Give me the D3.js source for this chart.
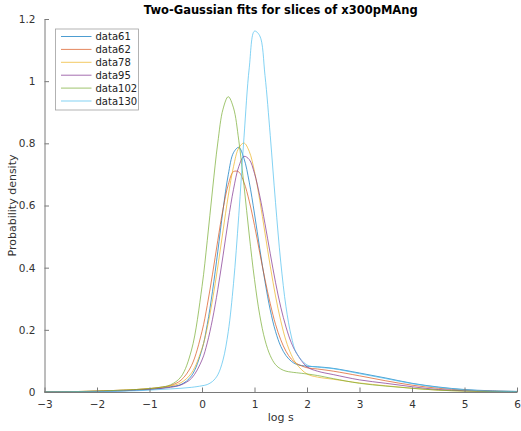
<!DOCTYPE html>
<html>
<head>
<meta charset="utf-8">
<script src="https://cdn.jsdelivr.net/npm/d3@7"></script>
<style>
  body { margin: 0; background: #fff; }
  text { font-family: "DejaVu Sans", sans-serif; }
</style>
</head>
<body>
<script>
// x grid (log s) shared by all slices
let xs = [-3, -2.5, -2, -1.5, -1.25, -1, -0.8, -0.6, -0.4, -0.2, 0, 0.1, 0.2, 0.3, 0.4, 0.5, 0.6, 0.7, 0.8, 0.9,
  1.0, 1.1, 1.2, 1.3, 1.4, 1.5, 1.6, 1.7, 1.8, 2.0, 2.2, 2.5, 3, 3.5, 4, 4.5, 5, 5.5, 6];

// probability density, one array per slice
let data61 = [0.0005, 0.001, 0.002, 0.004, 0.006, 0.009, 0.012, 0.017, 0.024, 0.052, 0.137, 0.217, 0.324, 0.451, 0.585, 0.699, 0.770, 0.787, 0.751, 0.675,
  0.573, 0.461, 0.355, 0.264, 0.195, 0.147, 0.117, 0.099, 0.089, 0.083, 0.081, 0.076, 0.061, 0.045, 0.028, 0.016, 0.008, 0.004, 0.002];
let data62 = [0.0005, 0.001, 0.003, 0.006, 0.008, 0.011, 0.015, 0.021, 0.038, 0.085, 0.195, 0.279, 0.379, 0.487, 0.588, 0.667, 0.709, 0.708, 0.674, 0.614,
  0.536, 0.448, 0.362, 0.284, 0.218, 0.168, 0.131, 0.106, 0.092, 0.078, 0.074, 0.067, 0.052, 0.036, 0.022, 0.012, 0.006, 0.003, 0.0015];
let data78 = [0.0005, 0.001, 0.003, 0.006, 0.008, 0.011, 0.014, 0.019, 0.030, 0.061, 0.140, 0.207, 0.296, 0.402, 0.518, 0.631, 0.725, 0.785, 0.801, 0.774,
  0.709, 0.617, 0.511, 0.405, 0.309, 0.229, 0.165, 0.120, 0.090, 0.058, 0.048, 0.041, 0.029, 0.020, 0.012, 0.006, 0.003, 0.0015, 0.001];
let data95 = [0.0005, 0.001, 0.002, 0.004, 0.006, 0.008, 0.011, 0.015, 0.023, 0.044, 0.103, 0.158, 0.234, 0.329, 0.438, 0.552, 0.652, 0.725, 0.758, 0.748,
  0.703, 0.631, 0.541, 0.445, 0.353, 0.273, 0.209, 0.159, 0.125, 0.081, 0.067, 0.056, 0.039, 0.028, 0.017, 0.008, 0.004, 0.002, 0.001];
let data102 = [0.0005, 0.001, 0.003, 0.006, 0.008, 0.011, 0.015, 0.023, 0.049, 0.135, 0.339, 0.487, 0.650, 0.801, 0.910, 0.950, 0.914, 0.810, 0.664, 0.505,
  0.362, 0.247, 0.167, 0.117, 0.088, 0.074, 0.067, 0.064, 0.062, 0.058, 0.053, 0.043, 0.028, 0.019, 0.012, 0.006, 0.003, 0.0015, 0.001];
let data130 = [0.0003, 0.0006, 0.001, 0.003, 0.004, 0.006, 0.008, 0.010, 0.012, 0.015, 0.020, 0.024, 0.034, 0.055, 0.103, 0.194, 0.349, 0.567, 0.820, 1.043,
  1.161, 1.146, 1.018, 0.825, 0.610, 0.418, 0.274, 0.180, 0.125, 0.087, 0.080, 0.075, 0.059, 0.043, 0.027, 0.015, 0.007, 0.003, 0.0015];

let seriesNames = ["data61", "data62", "data78", "data95", "data102", "data130"];
let seriesValues = [data61, data62, data78, data95, data102, data130];
let seriesColors = ["#0072BD", "#D95319", "#EDB120", "#7E2F8E", "#77AC30", "#4DBEEE"];

let xTicks = [-3, -2, -1, 0, 1, 2, 3, 4, 5, 6];
let yTicks = [0, 0.2, 0.4, 0.6, 0.8, 1, 1.2];
let yTickLabels = ["0", "0.2", "0.4", "0.6", "0.8", "1", "1.2"];

let svg = d3.select("body").append("svg")
  .attr("width", 521)
  .attr("height", 431);

let margin = {top: 19, right: 4, bottom: 39, left: 44.5};
let width = 521 - margin.left - margin.right;
let height = 431 - margin.top - margin.bottom;

let x = d3.scaleLinear().domain([-3, 6]).range([0, width]);
let y = d3.scaleLinear().domain([0, 1.2]).range([height, 0]);

let g = svg.append("g")
  .attr("transform", `translate(${margin.left}, ${margin.top})`);

// curves
let line = d3.line()
  .x(d => x(d[0]))
  .y(d => y(d[1]))
  .curve(d3.curveCatmullRom.alpha(0.5));

seriesValues.forEach((vals, i) => {
  g.append("path")
    .datum(xs.map((v, j) => [v, vals[j]]))
    .attr("fill", "none")
    .attr("stroke", seriesColors[i])
    .attr("stroke-width", 0.7)
    .attr("d", line);
});

// axes (matlab style, ticks pointing inward)
let axisColor = "#7a7a7a";
let xAxis = g.append("g")
  .attr("transform", `translate(0, ${height})`)
  .call(d3.axisBottom(x).tickValues(xTicks).tickSizeInner(-4.5).tickSizeOuter(0).tickPadding(9));
let yAxis = g.append("g")
  .call(d3.axisLeft(y).tickValues(yTicks).tickFormat((d, i) => yTickLabels[i]).tickSizeInner(-4.5).tickSizeOuter(0).tickPadding(9));

[xAxis, yAxis].forEach(a => {
  a.select(".domain").attr("stroke", axisColor);
  a.selectAll(".tick line").attr("stroke", axisColor);
  a.selectAll(".tick text")
    .attr("fill", "#333")
    .attr("font-size", 10.5)
    .attr("font-family", "DejaVu Sans, sans-serif");
});

// labels
svg.append("text")
  .attr("x", margin.left + width / 2)
  .attr("y", 14)
  .attr("text-anchor", "middle")
  .attr("font-weight", "bold")
  .attr("font-size", 11.5)
  .attr("fill", "#000")
  .text("Two-Gaussian fits for slices of x300pMAng");

svg.append("text")
  .attr("x", margin.left + width / 2)
  .attr("y", 421)
  .attr("text-anchor", "middle")
  .attr("font-size", 11)
  .attr("fill", "#333")
  .text("log s");

svg.append("text")
  .attr("transform", `translate(16, ${margin.top + height / 2}) rotate(-90)`)
  .attr("text-anchor", "middle")
  .attr("font-size", 11)
  .attr("fill", "#333")
  .text("Probability density");

// legend
let legend = svg.append("g").attr("transform", "translate(55.5, 29)");
legend.append("rect")
  .attr("width", 83)
  .attr("height", 81)
  .attr("fill", "#fff")
  .attr("stroke", "#a0a0a0")
  .attr("stroke-width", 0.8);

seriesNames.forEach((name, i) => {
  let row = legend.append("g").attr("transform", `translate(0, ${7.5 + i * 12.9})`);
  row.append("line")
    .attr("x1", 5.5).attr("x2", 36)
    .attr("stroke", seriesColors[i])
    .attr("stroke-width", 0.7);
  row.append("text")
    .attr("x", 40)
    .attr("dy", "0.35em")
    .attr("font-size", 10)
    .attr("fill", "#222")
    .text(name);
});
</script>
</body>
</html>
